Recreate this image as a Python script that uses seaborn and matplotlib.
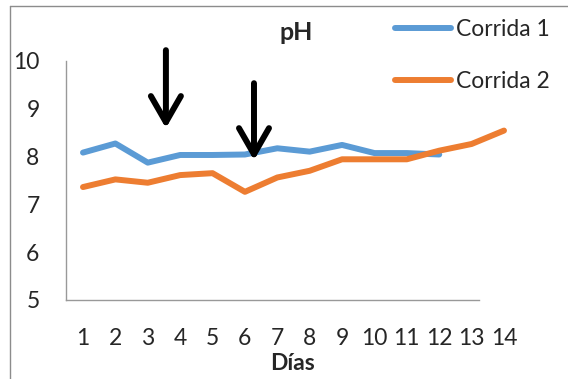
import numpy as np
import pandas as pd
import matplotlib
matplotlib.use("Agg")
import matplotlib.pyplot as plt
from matplotlib.lines import Line2D
import seaborn as sns

days = list(range(1, 15))
corrida1 = [8.08, 8.27, 7.87, 8.03, 8.03, 8.04, 8.17, 8.10, 8.24, 8.07, 8.07, 8.04]
corrida2 = [7.36, 7.52, 7.45, 7.61, 7.65, 7.26, 7.56, 7.70, 7.94, 7.94, 7.94, 8.12, 8.26, 8.54]
series_names = ["Corrida 1", "Corrida 2"]
colors = ["#5B9BD5", "#ED7D31"]
yticks = [5, 6, 7, 8, 9, 10]
arrow_x = [3.56, 6.28]
arrow_top = [10.22, 9.53]
arrow_tip = [8.59, 7.92]

df = pd.concat([
    pd.DataFrame({"Día": days[:len(corrida1)], "pH": corrida1, "Serie": series_names[0]}),
    pd.DataFrame({"Día": days[:len(corrida2)], "pH": corrida2, "Serie": series_names[1]}),
])

sns.set_style("white")
plt.rcParams["font.family"] = ["Lato", "DejaVu Sans"]
FS = 16.5

W, H = 568, 379
fig = plt.figure(figsize=(W / 100, H / 100), dpi=100)
ax = fig.add_axes([66 / W, (H - 300) / H, (515 - 66) / W, (300 - 60.7) / H])

sns.lineplot(data=df, x="Día", y="pH", hue="Serie", palette=colors,
             linewidth=4.3, ax=ax, legend=False, sort=False)
for l in ax.get_lines():
    l.set_solid_capstyle("round")
    l.set_solid_joinstyle("round")

ax.set_xlim(0.475, 14.34)
ax.set_ylim(5, 10)
ax.set_xticks(days)
ax.set_xticklabels([str(d) for d in days], fontsize=FS)
ax.set_yticks(yticks)
ax.set_yticklabels([str(t) for t in yticks], fontsize=FS)
ax.tick_params(axis="both", length=0)
ax.tick_params(axis="y", pad=19)
ax.tick_params(axis="x", pad=20)
ax.set_xlabel("")
ax.set_ylabel("")
for s in ["top", "right"]:
    ax.spines[s].set_visible(False)
for s in ["left", "bottom"]:
    ax.spines[s].set_color("#999999")
    ax.spines[s].set_linewidth(1.0)
ax.spines["bottom"].set_bounds(0.475, 13.23)
ax.grid(False)

for xa, yt, yb in zip(arrow_x, arrow_top, arrow_tip):
    ax.annotate("", xy=(xa, yb), xytext=(xa, yt),
                arrowprops=dict(arrowstyle="->,head_length=0.94,head_width=0.54",
                                color="black", lw=4.3, mutation_scale=20,
                                shrinkA=0, shrinkB=0),
                annotation_clip=False)

handles = [Line2D([0], [0], color=c, lw=4.3, solid_capstyle="round") for c in colors]
fig.legend(handles, series_names, loc="upper left", bbox_to_anchor=(395 / W, 1 - 19 / H),
           frameon=False, fontsize=FS, handlelength=2.45, handletextpad=0.22,
           labelspacing=1.35, borderaxespad=0, borderpad=0)

fig.text(296 / W, 1 - 32 / H, "pH", ha="center", va="center",
         fontsize=18, fontweight="bold")
fig.text(293 / W, 1 - 364 / H, "Días", ha="center", va="center",
         fontsize=FS, fontweight="bold")

fig.add_artist(Line2D([9.5 / W, 9.5 / W], [0, 1 - 5.5 / H], color="#8c8c8c", lw=1.0))
fig.add_artist(Line2D([9.5 / W, 1], [1 - 5.5 / H, 1 - 5.5 / H], color="#8c8c8c", lw=1.0))

fig.savefig("out.png", dpi=100, facecolor="white")
